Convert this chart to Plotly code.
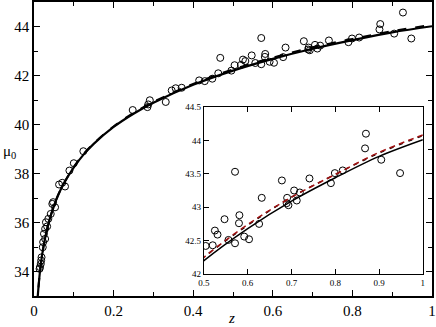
import plotly.graph_objects as go

# observed supernovae (redshift, distance modulus)
sn_z = [0.014, 0.015, 0.017, 0.018, 0.019, 0.022, 0.023, 0.028, 0.025, 0.028, 0.033,
        0.030, 0.036, 0.042, 0.053, 0.046, 0.048, 0.078, 0.071, 0.063, 0.089, 0.100,
        0.124, 0.248, 0.285, 0.287, 0.291, 0.331, 0.346, 0.356, 0.371, 0.415, 0.429,
        0.448, 0.463, 0.468, 0.496, 0.504, 0.520, 0.525, 0.531, 0.547, 0.556, 0.571,
        0.571, 0.581, 0.580, 0.592, 0.603, 0.626, 0.632, 0.678, 0.690, 0.689, 0.693,
        0.706, 0.712, 0.719, 0.741, 0.790, 0.799, 0.817, 0.870, 0.868, 0.905, 0.927,
        0.948]
sn_mu = [34.11, 34.18, 34.31, 34.45, 34.58, 34.99, 35.20, 35.33, 35.54, 35.74, 35.84,
         36.01, 36.15, 36.35, 36.62, 36.76, 36.83, 37.47, 37.62, 37.55, 38.12, 38.42,
         38.91, 40.59, 40.71, 40.82, 40.99, 40.92, 41.39, 41.48, 41.50, 41.80, 41.77,
         41.87, 42.09, 42.72, 42.20, 42.42, 42.43, 42.65, 42.59, 42.82, 42.51, 43.53,
         42.46, 42.88, 42.76, 42.56, 42.52, 42.75, 43.14, 43.40, 43.14, 43.06, 43.03,
         43.25, 43.10, 43.22, 43.43, 43.36, 43.51, 43.55, 44.10, 43.88, 43.71, 44.57,
         43.51]

# model curves
curve_z = [0.008, 0.01, 0.015, 0.02, 0.03, 0.04, 0.05, 0.06, 0.075, 0.1, 0.125, 0.15,
           0.2, 0.25, 0.3, 0.4, 0.5, 0.6, 0.7, 0.8, 0.9, 1.0]
solid_mu = [32.63, 33.11, 34.00, 34.64, 35.53, 36.17, 36.67, 37.09, 37.59, 38.25, 38.78,
            39.21, 39.90, 40.44, 40.89, 41.62, 42.20, 42.68, 43.09, 43.44, 43.76, 44.01]
dashed_mu = [32.63, 33.11, 34.00, 34.64, 35.53, 36.17, 36.68, 37.10, 37.60, 38.27, 38.80,
             39.23, 39.92, 40.47, 40.92, 41.66, 42.25, 42.73, 43.15, 43.49, 43.81, 44.07]
red_mu = [32.63, 33.11, 34.00, 34.64, 35.53, 36.17, 36.68, 37.10, 37.60, 38.27, 38.80,
          39.23, 39.92, 40.47, 40.92, 41.66, 42.25, 42.74, 43.15, 43.49, 43.82, 44.08]

FONT = "Times New Roman, Liberation Serif, DejaVu Serif, serif"

fig = go.Figure()

# main panel
fig.add_trace(go.Scatter(x=sn_z, y=sn_mu, mode="markers",
                         marker=dict(symbol="circle-open", size=7, color="black",
                                     line=dict(width=1, color="black"))))
fig.add_trace(go.Scatter(x=curve_z, y=dashed_mu, mode="lines", line_shape="spline",
                         line=dict(color="black", width=2, dash="dash")))
fig.add_trace(go.Scatter(x=curve_z, y=solid_mu, mode="lines", line_shape="spline",
                         line=dict(color="black", width=2.2)))

# inset
in_z = [z for z in sn_z if z >= 0.5]
in_mu = [m for z, m in zip(sn_z, sn_mu) if z >= 0.5]
fig.add_trace(go.Scatter(x=in_z, y=in_mu, mode="markers", xaxis="x2", yaxis="y2",
                         marker=dict(symbol="circle-open", size=7, color="black",
                                     line=dict(width=1, color="black"))))
fig.add_trace(go.Scatter(x=curve_z, y=solid_mu, mode="lines", xaxis="x2", yaxis="y2",
                         line_shape="spline", line=dict(color="black", width=1.5)))
fig.add_trace(go.Scatter(x=curve_z, y=dashed_mu, mode="lines", xaxis="x2", yaxis="y2",
                         line_shape="spline", line=dict(color="black", width=1.5, dash="4px,6px")))
fig.add_trace(go.Scatter(x=curve_z, y=red_mu, mode="lines", xaxis="x2", yaxis="y2",
                         line_shape="spline", line=dict(color="#a01010", width=1.5, dash="6px,4px")))

axis_common = dict(showgrid=False, zeroline=False, showline=True, linecolor="black",
                   ticks="inside", tickcolor="black", automargin=False)

fig.update_layout(
    width=436, height=327,
    margin=dict(l=34, r=4, t=2, b=31, autoexpand=False),
    paper_bgcolor="white", plot_bgcolor="white",
    showlegend=False,
    font=dict(family=FONT, color="black"),
    xaxis=dict(**axis_common, domain=[0, 1], range=[0, 1], dtick=0.2, ticklen=6,
               linewidth=1.5, mirror="ticks", tickfont=dict(size=15),
               minor=dict(ticks="inside", ticklen=4, dtick=0.1, tickcolor="black")),
    yaxis=dict(**axis_common, range=[33, 45], dtick=2, ticklen=6,
               linewidth=1.5, mirror="ticks", tickfont=dict(size=15),
               minor=dict(ticks="inside", ticklen=4, dtick=1, tickcolor="black")),
    xaxis2=dict(**axis_common, domain=[0.427, 0.977], anchor="y2", range=[0.5, 1],
                dtick=0.1, ticklen=5, linewidth=1.2, mirror="ticks",
                tickfont=dict(size=9)),
    yaxis2=dict(**axis_common, domain=[0.0748, 0.643], anchor="x2", range=[42, 44.5],
                dtick=0.5, ticklen=5, linewidth=1.2, mirror=True,
                tickfont=dict(size=9)),
    annotations=[
        dict(text="μ<sub>0</sub>", xref="paper", yref="paper", x=-0.083, y=0.49,
             xanchor="left", yanchor="middle", showarrow=False, font=dict(size=15)),
        dict(text="<i>z</i>", xref="paper", yref="paper", x=0.497, y=-0.075,
             xanchor="center", yanchor="middle", showarrow=False, font=dict(size=15)),
    ],
)

# the page's default body margin would push the figure 8px off the window
fig.write_html("out.html", config={"displayModeBar": False},
               post_script="document.body.style.margin='0';")
